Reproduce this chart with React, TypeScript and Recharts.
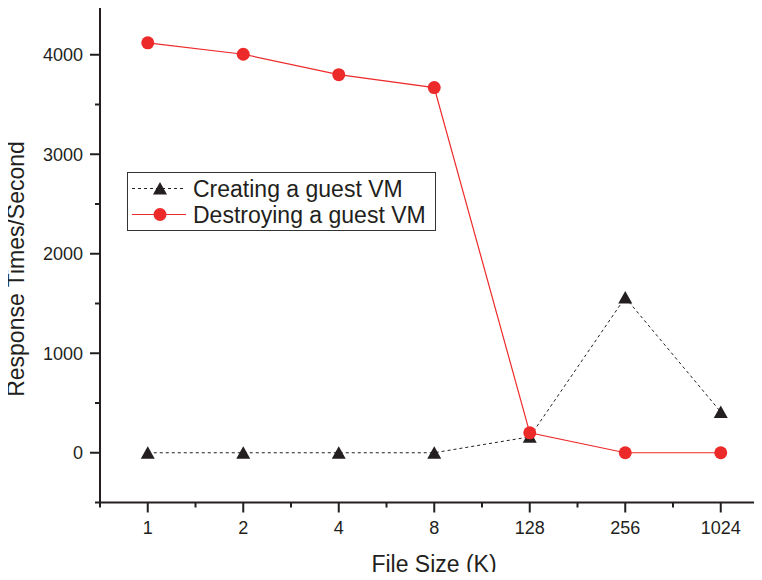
import React from 'react';
import { LineChart, Line, XAxis, YAxis, Legend } from 'recharts';

const categories = ['1', '2', '4', '8', '128', '256', '1024'];
const creating = [0, 0, 0, 0, 160, 1560, 410];
const destroying = [4120, 4005, 3800, 3670, 200, 0, 0];

const yTicks = [-500, 0, 500, 1000, 1500, 2000, 2500, 3000, 3500, 4000, 4500];
const xTicks = [-0.5, 0, 0.5, 1, 1.5, 2, 2.5, 3, 3.5, 4, 4.5, 5, 5.5, 6, 6.5];

const data = categories.map((c, i) => ({
  idx: i,
  name: c,
  creating: creating[i],
  destroying: destroying[i],
}));

const INK = '#231f20';
const RED = '#ed2a2a';
const FONT = '"Liberation Sans", Arial, sans-serif';
const textStyle = { fontFamily: FONT };

const YTick = ({ x, y, payload }: any) => {
  const major = payload.value % 1000 === 0;
  return (
    <g>
      <line x1={x} x2={x - (major ? 10 : 5)} y1={y} y2={y} stroke={INK} strokeWidth={2} />
      {major && (
        <text x={x - 17} y={y + 6.5} textAnchor="end" fontSize={18} fill={INK} style={textStyle}>
          {payload.value}
        </text>
      )}
    </g>
  );
};

const XTick = ({ x, y, payload }: any) => {
  const major = Number.isInteger(payload.value);
  return (
    <g>
      <line x1={x} x2={x} y1={y} y2={y + (major ? 10 : 5)} stroke={INK} strokeWidth={2} />
      {major && (
        <text x={x} y={y + 31.5} textAnchor="middle" fontSize={18} fill={INK} style={textStyle}>
          {categories[payload.value]}
        </text>
      )}
    </g>
  );
};

const Triangle = ({ cx, cy }: any) => (
  <polygon
    points={`${cx},${cy - 6.5} ${cx - 7},${cy + 6} ${cx + 7},${cy + 6}`}
    fill={INK}
  />
);

const LegendBox = () => (
  <svg width={309} height={59} style={{ display: 'block' }}>
    <rect x={0.5} y={0.5} width={308} height={58} fill="#fff" stroke="#333" strokeWidth={1} />
    <line x1={5} x2={59} y1={16.5} y2={16.5} stroke={INK} strokeDasharray="3 3" />
    <polygon points="33,10 26,22.5 40,22.5" fill={INK} />
    <text x={66} y={24.5} fontSize={23} fill={INK} style={textStyle}>Creating a guest VM</text>
    <line x1={5} x2={59} y1={42.5} y2={42.5} stroke={RED} strokeWidth={1.2} />
    <circle cx={33} cy={42.5} r={6.5} fill={RED} />
    <text x={66} y={50.5} fontSize={23} fill={INK} style={textStyle}>Destroying a guest VM</text>
  </svg>
);

export default function App() {
  return (
    <div style={{ margin: -8, width: 762, height: 580, overflow: 'hidden', position: 'relative', background: '#fff', fontFamily: FONT }}>
      <LineChart width={770} height={580} data={data} margin={{ top: 5, right: 1.5, bottom: 7.5, left: 0 }}>
        <XAxis
          dataKey="idx"
          type="number"
          domain={[-0.5, 6.5]}
          ticks={xTicks}
          interval={0}
          height={70}
          stroke={INK}
          strokeWidth={2}
          tickSize={0}
          tickMargin={0}
          tickLine={false}
          tick={<XTick />}
        />
        <YAxis
          type="number"
          domain={[-500, 4500]}
          ticks={yTicks}
          interval={0}
          width={100}
          stroke={INK}
          strokeWidth={2}
          tickSize={0}
          tickMargin={0}
          tickLine={false}
          tick={<YTick />}
        />
        <text x={434} y={572} textAnchor="middle" fontSize={23} fill={INK} style={textStyle}>
          File Size (K)
        </text>
        <text
          x={24}
          y={269}
          textAnchor="middle"
          fontSize={23}
          fill={INK}
          style={textStyle}
          transform="rotate(-90, 24, 269)"
        >
          Response Times/Second
        </text>
        <Line
          dataKey="creating"
          stroke={INK}
          strokeWidth={1}
          strokeDasharray="3 3"
          dot={<Triangle />}
          activeDot={false}
          isAnimationActive={false}
        />
        <Line
          dataKey="destroying"
          stroke={RED}
          strokeWidth={1.2}
          dot={{ r: 6.5, fill: RED, stroke: 'none' }}
          activeDot={false}
          isAnimationActive={false}
        />
        <Legend
          layout="vertical"
          align="center"
          verticalAlign="middle"
          content={<LegendBox />}
          wrapperStyle={{ position: 'absolute', left: 127, top: 172, width: 309, height: 59 }}
        />
      </LineChart>
    </div>
  );
}
